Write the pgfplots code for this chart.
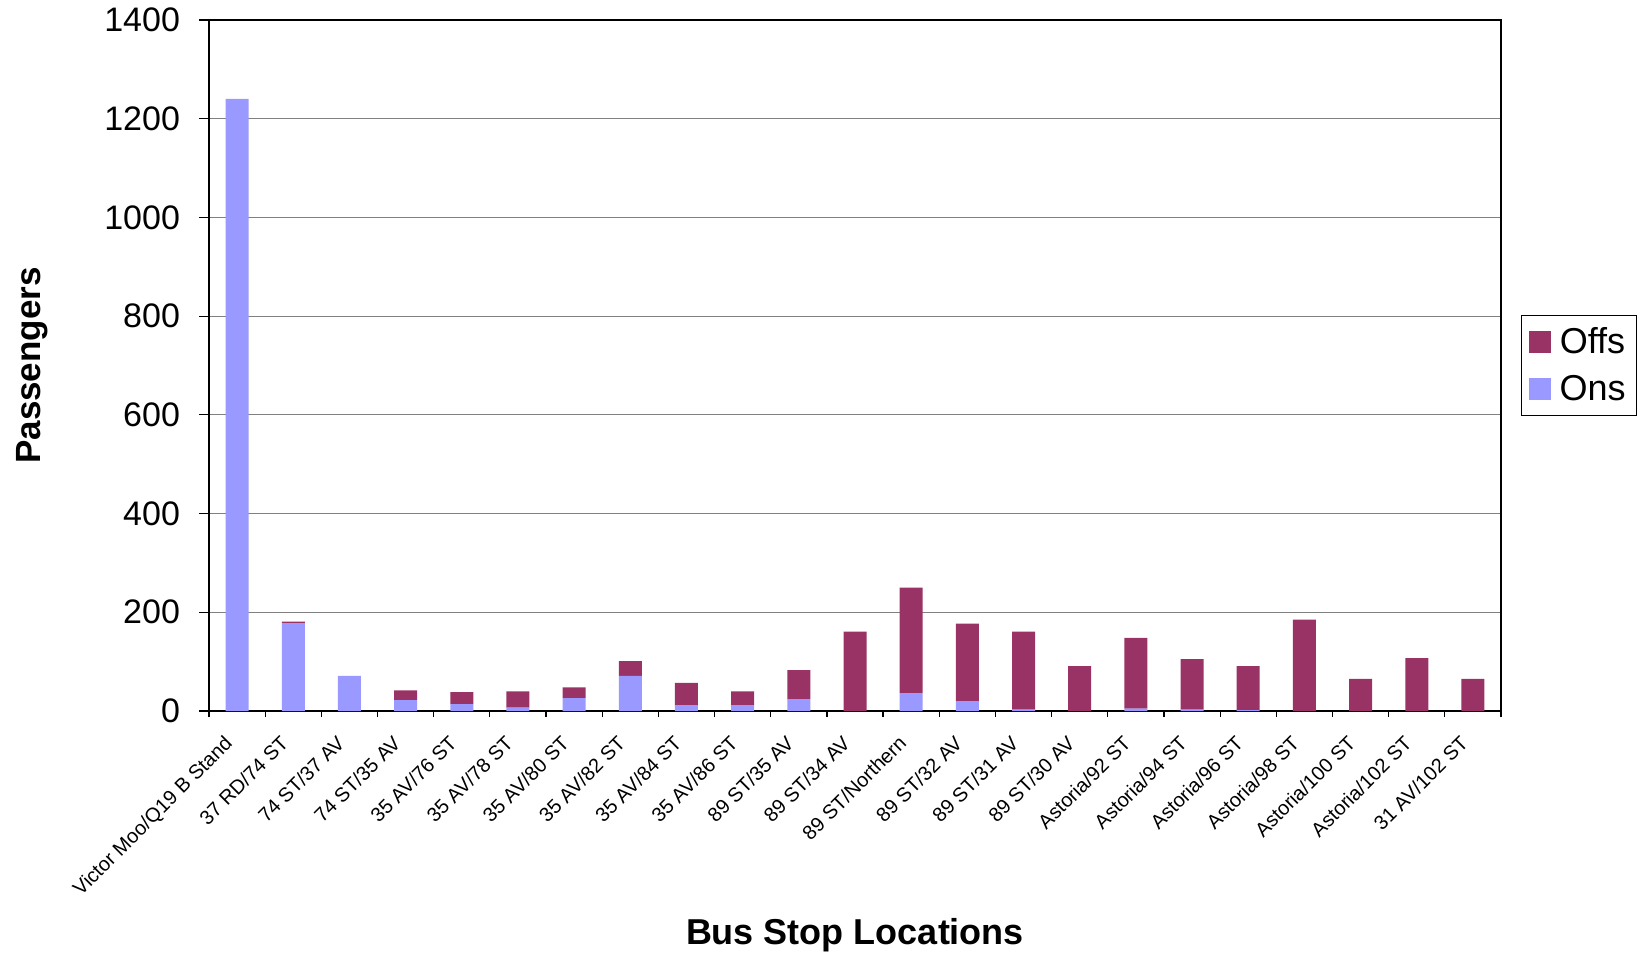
\documentclass[border=0pt]{standalone}
\usepackage{pgfplots}
\pgfplotsset{compat=1.18}
\usepackage{fontspec}
\setmainfont{Liberation Sans}
\definecolor{offs}{HTML}{993366}
\definecolor{ons}{HTML}{9999FF}
\begin{document}
\begin{tikzpicture}
\path[use as bounding box] (0,0) rectangle (824pt,476.5pt);
\begin{axis}[
  at={(104.5pt,121pt)}, anchor=south west,
  scale only axis, width=646pt, height=345.5pt,
  ybar stacked, bar width=11.5pt,
  xmin=-0.5, xmax=22.5, ymin=0, ymax=1400,
  xtick={0,...,22}, major x tick style={draw=none},
  minor xtick={-0.5,0.5,...,22.5},
  xtick pos=bottom, ytick pos=left,
  xtick align=outside, ytick align=outside,
  tick style={black, line width=0.6pt},
  minor tick length=3pt, major tick length=5pt,
  ytick={0,200,...,1400},
  axis line style={black, line width=1pt},
  ymajorgrids, grid style={gray, line width=0.6pt},
  xticklabels={Victor Moo/Q19 B Stand, 37 RD/74 ST, 74 ST/37 AV, 74 ST/35 AV, 35 AV/76 ST, 35 AV/78 ST, 35 AV/80 ST, 35 AV/82 ST, 35 AV/84 ST, 35 AV/86 ST, 89 ST/35 AV, 89 ST/34 AV, 89 ST/Northern, 89 ST/32 AV, 89 ST/31 AV, 89 ST/30 AV, Astoria/92 ST, Astoria/94 ST, Astoria/96 ST, Astoria/98 ST, Astoria/100 ST, Astoria/102 ST, 31 AV/102 ST},
  xticklabel style={xshift=-7pt, yshift=-5pt, rotate=45, anchor=north east, font=\fontsize{10}{12}\selectfont, inner sep=1pt},
  yticklabel style={xshift=-6pt, font=\fontsize{17}{19}\selectfont},
  /pgf/number format/assume math mode=true,
  /pgf/number format/1000 sep={},
  xlabel={Bus Stop Locations}, ylabel={Passengers},
  xlabel style={at={(axis description cs:0.5,-0.325)}, anchor=center, font=\bfseries\fontsize{18}{20}\selectfont},
  ylabel style={at={(axis description cs:-0.1365,0.5)}, anchor=center, font=\bfseries\fontsize{17.5}{20}\selectfont},
  reverse legend,
  legend style={at={(axis description cs:1,0.5)}, anchor=west, xshift=10pt, draw=black, line width=0.5pt, font=\fontsize{18}{20}\selectfont, row sep=5pt, inner xsep=3.5pt, inner ysep=4pt, nodes={inner xsep=2pt}},
  legend image code/.code={\fill[#1] (0pt,-5.5pt) rectangle (11pt,5.5pt); \path (13.5pt,0pt);},
]
\addplot[fill=ons, draw=none] coordinates {
(0,1240) (1,178) (2,71) (3,22) (4,14) (5,7) (6,26) (7,71) (8,12) (9,12) (10,24) (11,0) (12,36) (13,20) (14,3) (15,0) (16,5) (17,3) (18,2) (19,0) (20,0) (21,0) (22,0)};
\addlegendentry{Ons}
\addplot[fill=offs, draw=none] coordinates {
(0,0) (1,3) (2,0) (3,20) (4,24) (5,33) (6,22) (7,30) (8,45) (9,28) (10,59) (11,161) (12,214) (13,157) (14,158) (15,91) (16,143) (17,102) (18,89) (19,185) (20,65) (21,107) (22,65)};
\addlegendentry{Offs}
\end{axis}
\end{tikzpicture}
\end{document}
